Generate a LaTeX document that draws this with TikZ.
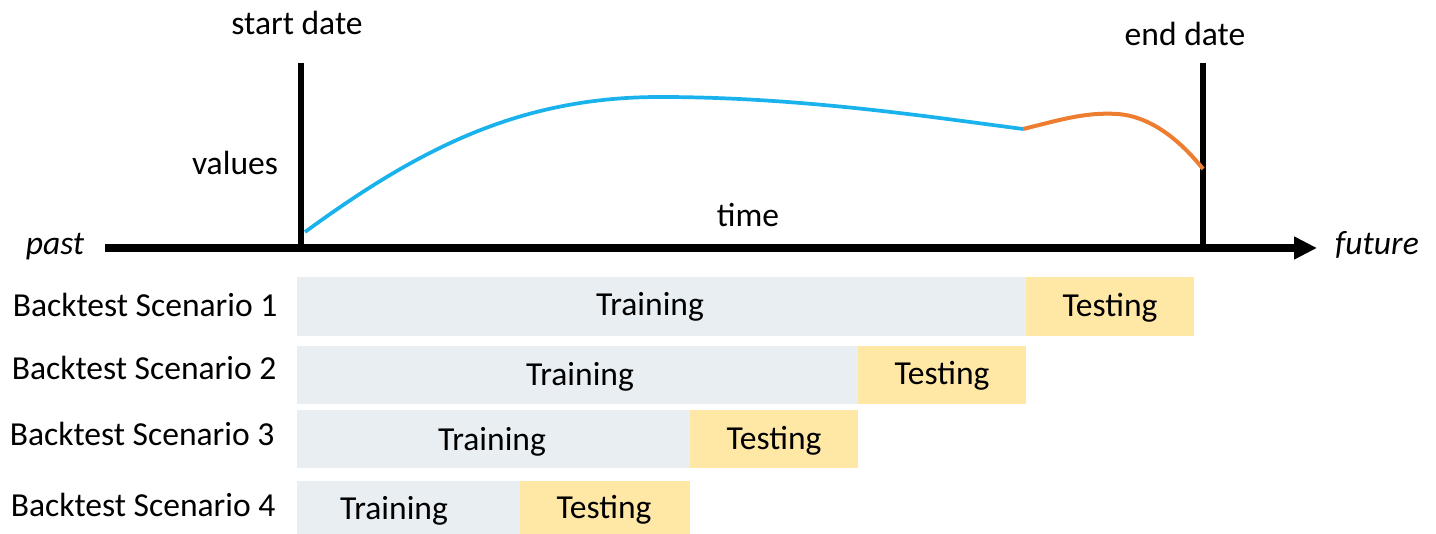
\documentclass[tikz,border=0pt]{standalone}
\usepackage{fontspec}
\setmainfont{Carlito}
\usepackage{xcolor}
\usepackage{tikz}
\usetikzlibrary{arrows.meta,positioning,calc}
\definecolor{ink}{HTML}{000000}
\definecolor{histblue}{HTML}{1AB2EC}
\definecolor{futorange}{HTML}{ED7D31}
\definecolor{trainfill}{HTML}{E9EEF3}
\definecolor{testfill}{HTML}{FFE8A6}
\tikzset{
  axisline/.style={-{Triangle[length=8pt,width=7.5pt]}, draw=ink, line width=2.5pt},
  dateline/.style={draw=ink, line width=2pt},
  histcurve/.style={draw=histblue, line width=1.3pt},
  futcurve/.style={draw=futorange, line width=1.4pt},
  trainbar/.style={fill=trainfill},
  testbar/.style={fill=testfill},
  lbl/.style={text=ink, anchor=base, inner sep=0pt},
  rowname/.style={text=ink, anchor=base east, inner sep=0pt}
}

\begin{document}
\begin{tikzpicture}[x=0.35pt, y=-0.35pt, font=\fontsize{11.75}{13}\selectfont]
  \useasboundingbox (0,0) rectangle (1436,534);

  % Time axis
  \coordinate (axstart) at (105,248);
  \coordinate (axend) at (1317,248);
  \draw[axisline] (axstart) -- (axend);
  \node[lbl, font=\fontsize{11.75}{13}\selectfont\itshape] (past) at (55,255) {past};
  \node[lbl, font=\fontsize{11.75}{13}\selectfont\itshape] (future) at (1377,255) {future};
  \node[lbl] (time) at (748,227) {time};

  % Start and end dates
  \coordinate (sdtop) at (301,63);
  \coordinate (sdbot) at (301,248);
  \coordinate (edtop) at (1203,63);
  \coordinate (edbot) at (1203,248);
  \draw[dateline] (sdtop) -- (sdbot);
  \draw[dateline] (edtop) -- (edbot);
  \node[lbl] (startdate) at (297,35) {start date};
  \node[lbl] (enddate) at (1185,46) {end date};
  \node[lbl] (values) at (235,175) {values};

  % Values over time
  \draw[histcurve] (305,232) .. controls (420,148) and (520,97) .. (660,97)
    .. controls (800,97) and (930,117) .. (1023,129);
  \draw[futcurve] (1023,129) .. controls (1060,120) and (1085,112) .. (1117,114)
    .. controls (1150,116) and (1180,140) .. (1203,169);

  % Backtest scenarios
  \fill[trainbar] (297,277) rectangle (1026,336);
  \fill[testbar] (1026,277) rectangle (1194,336);
  \fill[trainbar] (297,346) rectangle (858,404);
  \fill[testbar] (858,346) rectangle (1026,404);
  \fill[trainbar] (297,410) rectangle (690,468);
  \fill[testbar] (690,410) rectangle (858,468);
  \fill[trainbar] (297,481) rectangle (520,534);
  \fill[testbar] (520,481) rectangle (690,534);

  \node[rowname] (sc1) at (278,317) {Backtest Scenario 1};
  \node[rowname] (sc2) at (277,380) {Backtest Scenario 2};
  \node[rowname] (sc3) at (275,446) {Backtest Scenario 3};
  \node[rowname] (sc4) at (276,517) {Backtest Scenario 4};

  \node[lbl] (train1) at (650,316) {Training};
  \node[lbl] (test1) at (1110,317) {Testing};
  \node[lbl] (train2) at (580,386) {Training};
  \node[lbl] (test2) at (942,385) {Testing};
  \node[lbl] (train3) at (492,451) {Training};
  \node[lbl] (test3) at (774,450) {Testing};
  \node[lbl] (train4) at (394,520) {Training};
  \node[lbl] (test4) at (604,519) {Testing};
\end{tikzpicture}
\end{document}
